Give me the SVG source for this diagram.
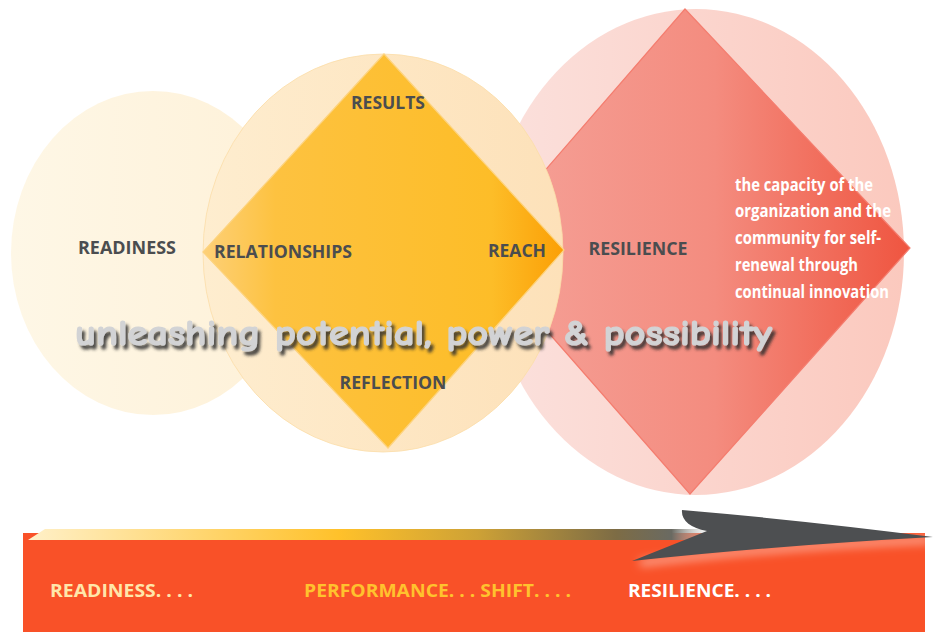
<svg xmlns="http://www.w3.org/2000/svg" width="940" height="632" viewBox="0 0 940 632">
  <defs>
    <linearGradient id="gLeft" x1="0" y1="0" x2="1" y2="0">
      <stop offset="0" stop-color="#FEF7E6"/>
      <stop offset="1" stop-color="#FEF1D8"/>
    </linearGradient>
    <linearGradient id="gMid" x1="0" y1="0" x2="1" y2="0">
      <stop offset="0" stop-color="#FEEDCF"/>
      <stop offset="1" stop-color="#FDE1B9"/>
    </linearGradient>
    <linearGradient id="gMidD" x1="0" y1="0" x2="1" y2="0">
      <stop offset="0" stop-color="#FDD078"/>
      <stop offset="0.2" stop-color="#FDC240"/>
      <stop offset="0.8" stop-color="#FDBD28"/>
      <stop offset="1" stop-color="#FB9F05"/>
    </linearGradient>
    <linearGradient id="gRight" x1="0" y1="0" x2="1" y2="0">
      <stop offset="0" stop-color="#FBE1DD"/>
      <stop offset="1" stop-color="#FBC9BE"/>
    </linearGradient>
    <linearGradient id="gRightD" x1="0" y1="0" x2="1" y2="0">
      <stop offset="0" stop-color="#F5A39A"/>
      <stop offset="0.55" stop-color="#F48C7F"/>
      <stop offset="1" stop-color="#EF5540"/>
    </linearGradient>
    <linearGradient id="gStrip" x1="28" y1="0" x2="720" y2="0" gradientUnits="userSpaceOnUse">
      <stop offset="0" stop-color="#FFF0C8"/>
      <stop offset="0.45" stop-color="#FFC12A"/>
      <stop offset="0.65" stop-color="#CDA136"/>
      <stop offset="0.85" stop-color="#7D6C45"/>
      <stop offset="0.93" stop-color="#6A6A62"/>
      <stop offset="1" stop-color="#FFFFFF" stop-opacity="0"/>
    </linearGradient>
    <filter id="shadow" x="-5%" y="-30%" width="110%" height="160%">
      <feGaussianBlur in="SourceAlpha" stdDeviation="1.6"/>
      <feOffset dx="3" dy="4" result="b"/>
      <feFlood flood-color="#2E2E2E" flood-opacity="0.85"/>
      <feComposite in2="b" operator="in"/>
      <feMerge><feMergeNode/><feMergeNode in="SourceGraphic"/></feMerge>
    </filter>
    <filter id="glow" x="-20%" y="-100%" width="140%" height="300%">
      <feGaussianBlur stdDeviation="5"/>
    </filter>
    <style>
      .lbl{font-family:"Open Sans","Liberation Sans",sans-serif;font-weight:bold;font-size:17px;fill:#4B4D4F;text-anchor:middle}
      .desc{font-family:"Open Sans","Liberation Sans",sans-serif;font-weight:bold;font-size:18px;fill:#FFFFFF}
      .bot{font-family:"Open Sans","Liberation Sans",sans-serif;font-weight:bold;font-size:18px}
      .tag{font-family:"Comic Sans MS","Comic Neue","DejaVu Sans",sans-serif;font-weight:bold;font-size:37px;fill:#D2D3D5;stroke:#D2D3D5;stroke-width:1.2;stroke-linejoin:round}
    </style>
  </defs>

  <g id="resilience-circle">
    <ellipse cx="696" cy="252" rx="208" ry="243" fill="url(#gRight)"/>
  </g>
  <g id="resilience-diamond">
    <polygon points="685,9 910,248 690,494 476,250" fill="url(#gRightD)" stroke="#F47D6F" stroke-width="1.2"/>
    <text class="lbl" x="638" y="255" textLength="99" lengthAdjust="spacingAndGlyphs">RESILIENCE</text>
    <text class="desc" x="735" y="191" textLength="138" lengthAdjust="spacingAndGlyphs">the capacity of the</text>
    <text class="desc" x="735" y="217" textLength="156" lengthAdjust="spacingAndGlyphs">organization and the</text>
    <text class="desc" x="735" y="244" textLength="146" lengthAdjust="spacingAndGlyphs">community for self-</text>
    <text class="desc" x="735" y="271" textLength="123" lengthAdjust="spacingAndGlyphs">renewal through</text>
    <text class="desc" x="735" y="298" textLength="154" lengthAdjust="spacingAndGlyphs">continual innovation</text>
  </g>

  <g id="readiness-circle">
    <ellipse cx="153" cy="253" rx="142" ry="162" fill="url(#gLeft)"/>
    <text class="lbl" x="127" y="254" textLength="98" lengthAdjust="spacingAndGlyphs">READINESS</text>
  </g>

  <g id="performance-circle">
    <ellipse cx="383" cy="253" rx="180" ry="199" fill="url(#gMid)" stroke="#FBDDA8" stroke-width="0.8"/>
  </g>
  <g id="performance-diamond">
    <polygon points="384,54 564,250 388,448 203,252" fill="url(#gMidD)" stroke="#FDD37E" stroke-width="1.2"/>
    <text class="lbl" x="388" y="109" textLength="74" lengthAdjust="spacingAndGlyphs">RESULTS</text>
    <text class="lbl" x="283" y="258" textLength="138" lengthAdjust="spacingAndGlyphs">RELATIONSHIPS</text>
    <text class="lbl" x="517" y="257" textLength="58" lengthAdjust="spacingAndGlyphs">REACH</text>
    <text class="lbl" x="393" y="389" textLength="107" lengthAdjust="spacingAndGlyphs">REFLECTION</text>
  </g>

  <g id="tagline">
    <text class="tag" x="75" y="345" textLength="697" lengthAdjust="spacingAndGlyphs" filter="url(#shadow)">unleashing potential, power &amp; possibility</text>
  </g>

  <g id="timeline-bar">
    <rect x="23" y="533" width="902" height="99" fill="#F95128"/>
    <polygon points="28,540 45,529 720,529 720,540" fill="url(#gStrip)"/>
    <text class="bot" x="50" y="597" fill="#FFE6AA" textLength="143" lengthAdjust="spacingAndGlyphs">READINESS. . . .</text>
    <text class="bot" x="304" y="597" fill="#FFC22E" textLength="267" lengthAdjust="spacingAndGlyphs">PERFORMANCE. . . SHIFT. . . .</text>
    <text class="bot" x="628" y="597" fill="#FFFFFF" textLength="143" lengthAdjust="spacingAndGlyphs">RESILIENCE. . . .</text>
  </g>

  <g id="connectors">
    <path d="M640,563 Q780,546 930,540" fill="none" stroke="#FFFFFF" stroke-width="6" stroke-opacity="0.55" filter="url(#glow)"/>
    <path d="M682,510 C681,520 690,528 707,531 L632,561 Q770,546 933,537 Q800,520 682,510 Z" fill="#4D4F51"/>
  </g>
</svg>
